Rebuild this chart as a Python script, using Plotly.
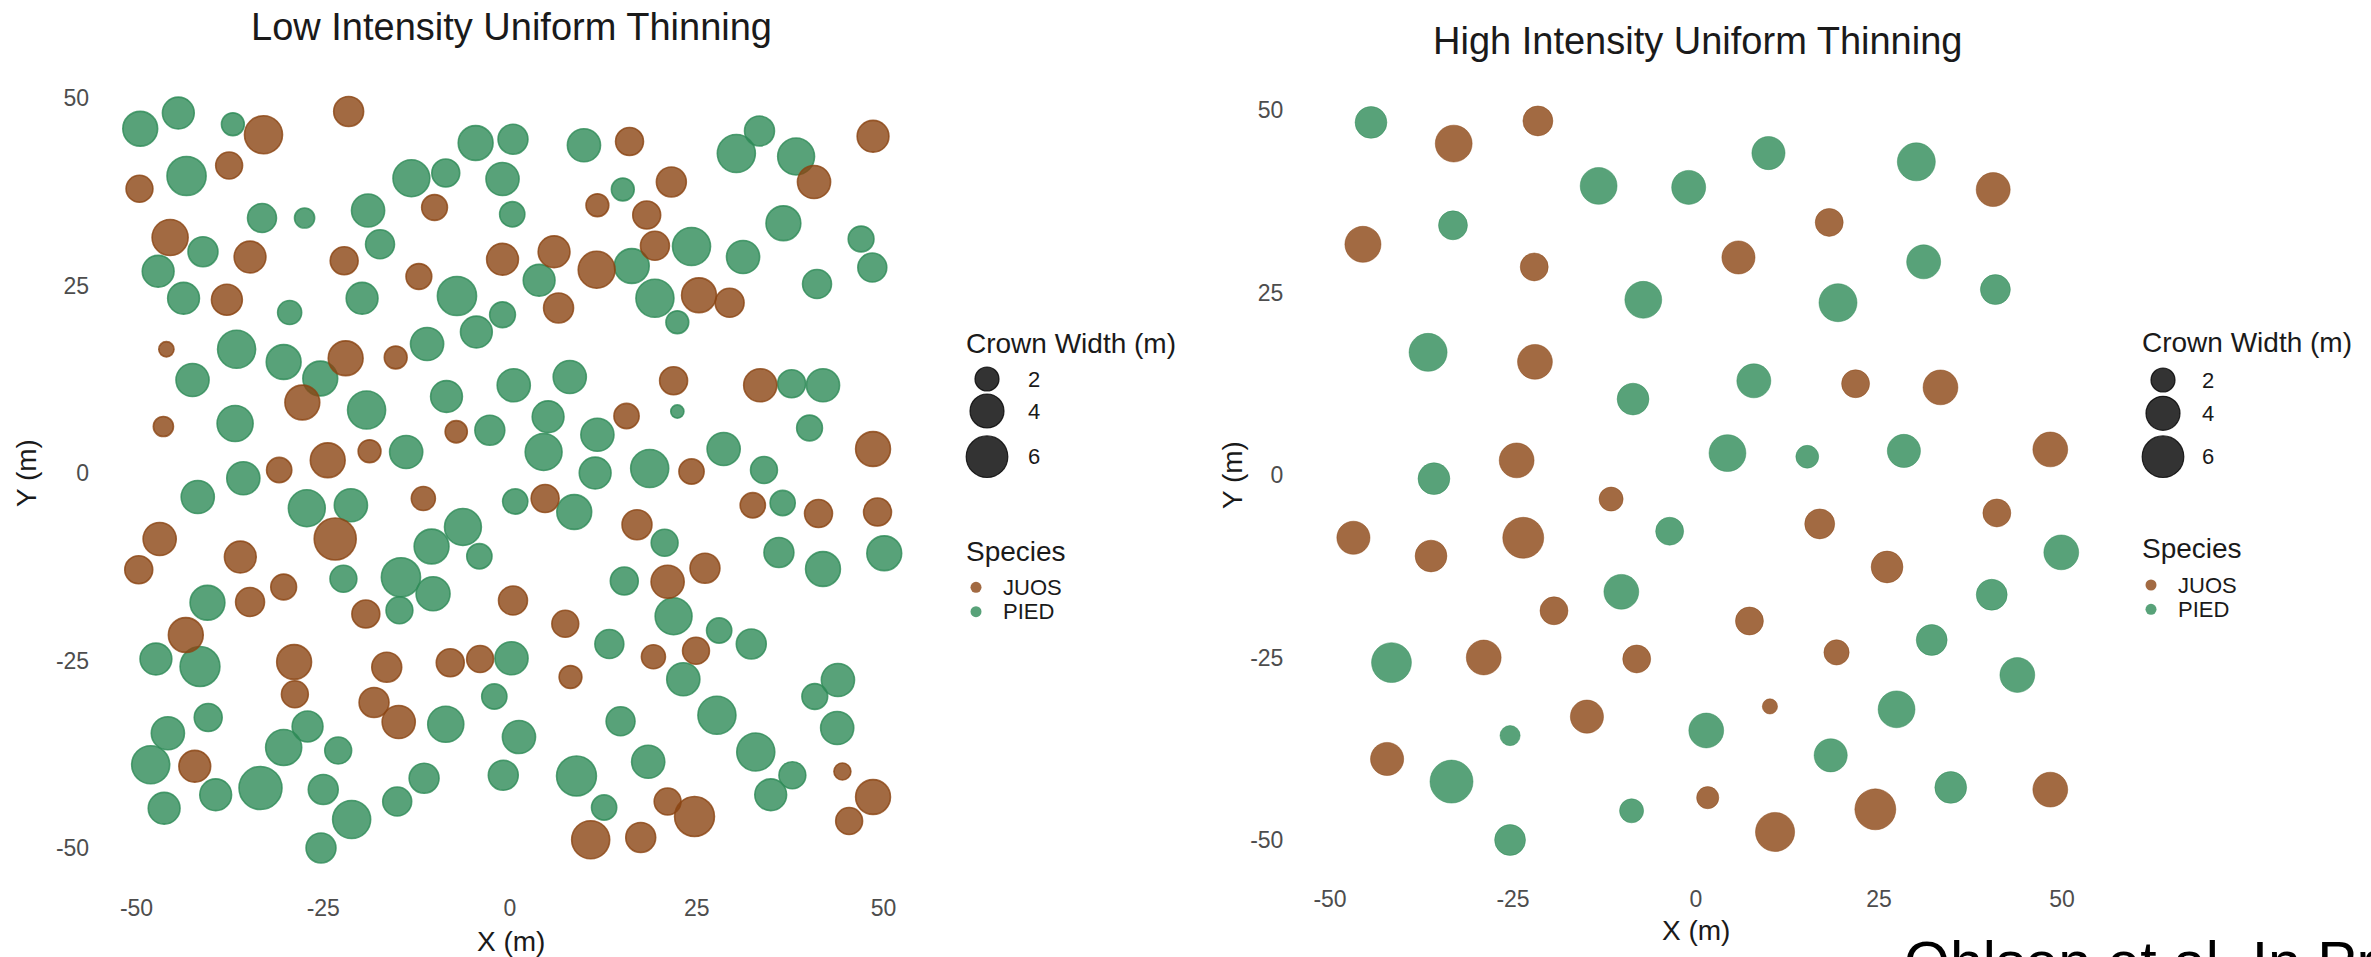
import plotly.graph_objects as go

W, H = 2371, 957

# ---------------- DATA ----------------
# Low intensity panel, JUOS (x m, y m, crown width m)
low_juos_x = [-33.0, -21.6, -37.6, -49.6, -10.1, -45.5, -34.8, -22.2, -1.0, -12.2, -37.9, -46.0, -22.0, -15.3,
              -27.8, -46.4, -7.2, -24.4, -18.8, -30.9, -11.6, -46.9, -49.7, -36.1, -23.4, -19.3, -30.3, -34.8,
              -43.4, -28.9, -28.8, -16.5, -8.0, -4.0, 0.4, -18.2, -14.9, -42.2, 16.0, 40.7, 48.6, 21.6, 11.7,
              18.3, 5.9, 11.6, 19.4, 25.3, 29.4, 6.5, 21.9, 33.5, 15.6, 24.3, 48.6, 4.7, 17.0, 32.5, 41.3, 49.2,
              26.1, 21.1, 7.4, 19.2, 24.9, 8.1, 44.5, 48.6, 45.4, 21.1, 24.7, 10.8, 17.5]
low_juos_y = [45.1, 48.2, 41.0, 37.9, 35.4, 31.4, 28.8, 28.3, 28.5, 26.2, 23.1, 16.5, 15.3, 15.4,
              9.4, 6.2, 5.5, 1.7, 2.9, 0.4, -3.4, -8.8, -12.9, -11.2, -8.8, -18.8, -15.2, -17.2,
              -21.6, -25.2, -29.5, -25.9, -25.3, -24.8, -17.0, -30.6, -33.2, -39.1, 44.2, 38.8, 44.9, 38.8, 35.7,
              34.4, 29.5, 27.1, 30.3, 23.7, 22.7, 22.0, 12.3, 11.7, 7.6, 0.2, 3.2, -3.4, -6.9, -4.3, -5.4, -5.2,
              -12.7, -14.5, -20.1, -24.5, -23.7, -27.2, -39.8, -43.2, -46.4, -43.8, -45.8, -48.9, -48.6]
low_juos_w = [5.0, 3.1, 2.5, 2.5, 2.3, 4.5, 3.5, 2.7, 3.5, 2.3, 3.3, 0.8, 4.2, 1.8,
              4.2, 1.4, 1.7, 4.2, 1.8, 2.2, 2.0, 3.8, 2.7, 3.5, 6.1, 2.7, 2.3, 2.9,
              4.2, 4.2, 2.5, 3.1, 2.7, 2.5, 2.9, 3.1, 3.8, 3.5, 2.7, 3.8, 3.5, 3.1, 1.8,
              2.7, 3.5, 4.7, 2.9, 4.2, 2.9, 3.1, 2.7, 3.8, 2.2, 2.2, 4.2, 2.7, 3.1, 2.2, 2.7, 2.7,
              3.1, 3.8, 2.5, 2.0, 2.5, 1.8, 1.0, 4.2, 2.5, 2.5, 5.5, 5.0, 3.1]

# Low intensity panel, PIED
low_pied_x = [-49.5, -44.4, -37.1, -43.3, -4.6, 0.4, -13.2, -8.6, -1.0, 0.3, -33.2, -27.5, -19.0, -41.1,
              -17.4, -47.1, -43.7, -19.8, -7.1, -29.5, -1.0, -4.5, -36.6, -30.3, -25.4, -11.1, -42.5, -19.2,
              -8.5, 0.5, -36.8, -2.7, -13.9, -35.7, -41.8, -27.2, -21.3, 0.7, -22.3, -10.5, -6.3, -4.1, -14.6,
              -10.3, -14.8, -40.5, -47.4, -41.5, 0.2, -2.1, -8.6, 1.2, -40.4, -45.8, -48.1, -39.4, -33.4, -46.3,
              -30.3, -27.1, -23.0, -25.0, -21.2, -25.3, -15.1, -11.5, -0.9,
              9.9, 33.4, 30.3, 38.3, 15.1, 36.6, 3.9, 16.3, 24.3, 31.2, 47.0, 48.5, 41.1, 19.4, 22.4, 8.0,
              37.7, 41.9, 22.4, 5.1, 4.5, 11.7, 11.4, 18.7, 28.6, 34.0, 40.1, 8.6, 20.7, 36.5, 36.0, 41.9,
              50.1, 15.3, 21.9, 28.0, 32.3, 13.3, 23.2, 43.9, 40.8, 14.8, 27.7, 43.8, 18.5, 32.9, 8.9, 37.8,
              34.9, 12.6]
low_pied_y = [45.9, 48.0, 46.5, 39.6, 44.0, 44.5, 39.3, 40.0, 39.2, 34.5, 34.0, 34.0, 35.0, 29.5,
              30.5, 26.9, 23.3, 23.3, 23.6, 21.4, 21.1, 18.8, 16.5, 14.8, 12.6, 17.2, 12.4, 8.4,
              10.2, 11.7, 6.6, 5.7, 2.8, -0.7, -3.2, -4.7, -4.3, -3.8, -14.1, -9.8, -7.2, -11.1, -13.9,
              -16.1, -18.3, -17.3, -24.8, -25.8, -24.7, -29.8, -33.5, -35.2, -32.6, -34.7, -38.9, -42.9, -42.0, -44.7,
              -36.6, -33.8, -37.0, -42.2, -46.2, -50.0, -43.8, -40.7, -40.3,
              43.7, 45.6, 42.6, 42.2, 37.8, 33.3, 25.7, 27.6, 30.2, 28.8, 31.2, 27.4, 25.2, 23.3, 20.1, 12.8,
              11.9, 11.7, 8.2, 7.5, 2.8, 5.1, 0.0, 0.6, 3.2, 0.4, 6.0, -5.2, -9.3, -4.0, -10.6, -12.8,
              -10.7, -14.4, -19.1, -21.0, -22.8, -22.8, -27.5, -27.6, -29.8, -33.1, -32.3, -34.0, -38.5, -37.2, -40.4, -40.3,
              -42.9, -44.6]
low_pied_w = [4.2, 3.5, 1.8, 5.3, 4.2, 3.1, 4.7, 2.7, 3.8, 2.2, 2.9, 1.4, 3.8, 3.1,
              2.9, 3.5, 3.5, 3.5, 5.3, 2.0, 2.3, 3.5, 5.0, 4.2, 4.2, 3.8, 3.8, 5.0,
              3.5, 3.8, 4.5, 3.1, 3.8, 3.8, 3.8, 4.7, 3.8, 2.2, 2.5, 4.2, 4.7, 2.2, 5.3,
              4.0, 2.5, 4.2, 3.5, 5.5, 3.8, 2.2, 4.5, 3.8, 2.7, 3.8, 5.0, 3.5, 6.4, 3.5,
              4.5, 3.3, 2.5, 3.1, 5.0, 3.1, 2.9, 3.1, 3.1,
              3.8, 3.1, 5.0, 4.7, 1.8, 4.2, 3.5, 4.2, 5.0, 3.8, 2.3, 2.9, 2.9, 5.0, 1.8, 3.8,
              2.7, 3.8, 0.6, 3.5, 4.7, 3.8, 3.5, 5.0, 3.8, 2.5, 2.3, 4.2, 2.5, 2.2, 3.1, 4.2,
              4.2, 2.7, 4.7, 2.2, 3.1, 2.9, 3.8, 3.8, 2.3, 2.9, 5.0, 3.8, 3.8, 5.0, 5.5, 2.5,
              3.5, 2.2]

# High intensity panel, JUOS
high_juos_x = [-33.1, -21.6, -45.5, -22.1, -22.0, -24.5, -11.6, 40.6, 18.2, 5.8, 21.8, 33.4, 48.4, 41.1,
               -46.8, -36.2, -23.6, -19.4, -29.0, -8.1, -14.9, -42.2, 16.9, 26.1, 7.3, 19.2, 10.1, 48.4,
               1.6, 10.8, 24.5]
high_juos_y = [45.4, 48.5, 31.6, 28.5, 15.5, 2.0, -3.3, 39.1, 34.6, 29.8, 12.5, 12.0, 3.5, -5.2,
               -8.6, -11.1, -8.6, -18.6, -25.0, -25.2, -33.1, -38.9, -6.7, -12.6, -20.0, -24.3, -31.7, -43.1,
               -44.2, -48.9, -45.8]
high_juos_w = [4.7, 3.1, 4.5, 2.7, 4.2, 4.2, 2.0, 4.0, 2.7, 3.8, 2.7, 4.2, 4.2, 2.7,
               3.8, 3.5, 5.8, 2.7, 4.2, 2.7, 3.8, 3.8, 3.1, 3.5, 2.7, 2.2, 0.8, 4.2,
               1.7, 5.3, 5.8]

# High intensity panel, PIED
high_pied_x = [-44.4, -13.3, -33.2, -7.2, -36.6, -8.6, -35.8, 9.9, -1.0, 30.1, 31.1, 40.9, 19.4, 7.9,
               4.3, 15.2, 28.4, -3.6, -10.2, -41.6, -25.4, -33.4, -8.8, -25.4, 49.9, 40.4, 32.2, 43.9,
               27.4, 1.4, 18.4, 34.8]
high_pied_y = [48.3, 39.6, 34.2, 24.0, 16.8, 10.4, -0.5, 44.1, 39.4, 42.9, 29.2, 25.4, 23.6, 12.9,
               3.0, 2.5, 3.3, -7.7, -16.0, -25.7, -35.7, -42.0, -46.0, -50.0, -10.6, -16.4, -22.6, -27.4,
               -32.1, -35.0, -38.4, -42.8]
high_pied_w = [3.5, 4.7, 2.9, 4.7, 5.0, 3.5, 3.5, 3.8, 4.0, 5.0, 4.0, 3.1, 5.0, 4.0,
               4.7, 1.8, 3.8, 2.7, 4.2, 5.5, 1.4, 6.4, 2.0, 3.3, 4.2, 3.3, 3.3, 4.2,
               4.7, 4.2, 3.8, 3.5]

titles = ["Low Intensity Uniform Thinning", "High Intensity Uniform Thinning"]
tick_vals = [-50, -25, 0, 25, 50]
tick_text = ["-50", "-25", "0", "25", "50"]
size_legend_vals = [2, 4, 6]
species = ["JUOS", "PIED"]
citation = "Ohlson et al. In Press"

# ---------------- STYLE / LAYOUT ----------------
FONT = "Liberation Sans, Arial, Helvetica, sans-serif"
COLORS = {"JUOS": "rgba(139,69,19,0.8)", "PIED": "rgba(46,139,87,0.8)"}
SIZEREF = 2 / 17 ** 2   # area sizing: diameter = 17*sqrt(width) px


def px(xp):
    return xp / W


def py(yp):
    return 1 - yp / H


RANGE = [-55, 55]
# pixel location of data origin and px per metre for each panel
panel_geo = [
    dict(ox=510, sx=7.47, oy=473, sy=7.50, line=1.6, title=(511, 27),
         xt=(511, 941), yt=(27, 473), leg=dict(tx=964, ty=343, kx=987, ky=[379, 411, 456.7], lx=1026,
                                                 sty=551.7, dx=976, dy=[587.3, 611.7], dlx=1001)),
    dict(ox=1696, sx=7.32, oy=475, sy=7.30, line=0.6, title=(1697, 41),
         xt=(1696, 930), yt=(1232, 475), leg=dict(tx=2140, ty=342, kx=2163, ky=[380, 413.3, 456.7], lx=2200,
                                                  sty=548.3, dx=2151, dy=[585, 609.3], dlx=2176)),
]

data = [
    {"JUOS": (low_juos_x, low_juos_y, low_juos_w), "PIED": (low_pied_x, low_pied_y, low_pied_w)},
    {"JUOS": (high_juos_x, high_juos_y, high_juos_w), "PIED": (high_pied_x, high_pied_y, high_pied_w)},
]

fig = go.Figure()
layout = dict(
    width=W, height=H, margin=dict(l=0, r=0, t=0, b=0, pad=0),
    paper_bgcolor="white", plot_bgcolor="rgba(0,0,0,0)", showlegend=False,
    font=dict(family=FONT, color="#1A1A1A"),
)
annotations = []

# pixel-unit overlay axis for legend keys (declared first so it sits underneath)
layout["xaxis"] = dict(domain=[0, 1], range=[0, W], visible=False, fixedrange=True, anchor="y")
layout["yaxis"] = dict(domain=[0, 1], range=[H, 0], visible=False, fixedrange=True, anchor="x")

for i, g in enumerate(panel_geo):
    n = i + 2
    xa, ya, xr, yr = "xaxis%d" % n, "yaxis%d" % n, "x%d" % n, "y%d" % n
    x_left = g["ox"] + RANGE[0] * g["sx"]
    x_right = g["ox"] + RANGE[1] * g["sx"]
    y_top = g["oy"] - RANGE[1] * g["sy"]
    y_bot = g["oy"] - RANGE[0] * g["sy"]
    common = dict(range=RANGE, tickvals=tick_vals, ticktext=tick_text, showgrid=False, zeroline=False,
                  showline=False, ticks="", tickfont=dict(family=FONT, size=23, color="#4D4D4D"), fixedrange=True)
    layout[xa] = dict(domain=[px(x_left), px(x_right)], anchor=yr, ticklabelstandoff=6, **common)
    layout[ya] = dict(domain=[py(y_bot), py(y_top)], anchor=xr, ticklabelstandoff=9, **common)

    for sp in ["PIED", "JUOS"]:
        xs, ys, ws = data[i][sp]
        fig.add_trace(go.Scatter(
            x=xs, y=ys, mode="markers", xaxis=xr, yaxis=yr, name=sp, hoverinfo="skip",
            marker=dict(size=ws, sizemode="area", sizeref=SIZEREF, color=COLORS[sp], opacity=1,
                        line=dict(width=g["line"], color=COLORS[sp]))))

    annotations.append(dict(text=titles[i], x=px(g["title"][0]), y=py(g["title"][1]), xref="paper", yref="paper",
                            showarrow=False, xanchor="center", yanchor="middle",
                            font=dict(size=38, color="#1A1A1A", family=FONT)))
    annotations.append(dict(text="X (m)", x=px(g["xt"][0]), y=py(g["xt"][1]), xref="paper", yref="paper",
                            showarrow=False, xanchor="center", yanchor="middle",
                            font=dict(size=28, color="#1A1A1A", family=FONT)))
    annotations.append(dict(text="Y (m)", x=px(g["yt"][0]), y=py(g["yt"][1]), xref="paper", yref="paper",
                            showarrow=False, xanchor="center", yanchor="middle", textangle=-90,
                            font=dict(size=28, color="#1A1A1A", family=FONT)))

    # legends
    L = g["leg"]
    annotations.append(dict(text="Crown Width (m)", x=px(L["tx"]), y=py(L["ty"]), xref="paper", yref="paper",
                            showarrow=False, xanchor="left", yanchor="middle",
                            font=dict(size=28, color="#1A1A1A", family=FONT)))
    annotations.append(dict(text="Species", x=px(L["tx"]), y=py(L["sty"]), xref="paper", yref="paper",
                            showarrow=False, xanchor="left", yanchor="middle",
                            font=dict(size=28, color="#1A1A1A", family=FONT)))
    for v, yk in zip(size_legend_vals, L["ky"]):
        annotations.append(dict(text=str(v), x=px(L["lx"]), y=py(yk), xref="paper", yref="paper",
                                showarrow=False, xanchor="left", yanchor="middle",
                                font=dict(size=22, color="#1A1A1A", family=FONT)))
    for s, yk in zip(species, L["dy"]):
        annotations.append(dict(text=s, x=px(L["dlx"]), y=py(yk), xref="paper", yref="paper",
                                showarrow=False, xanchor="left", yanchor="middle",
                                font=dict(size=22, color="#1A1A1A", family=FONT)))
    fig.add_trace(go.Scatter(
        x=[L["kx"]] * len(size_legend_vals), y=L["ky"], mode="markers", xaxis="x", yaxis="y",
        hoverinfo="skip",
        marker=dict(size=size_legend_vals, sizemode="area", sizeref=SIZEREF, color="rgba(0,0,0,0.8)",
                    opacity=1, line=dict(width=1.2, color="rgba(0,0,0,0.8)"))))
    fig.add_trace(go.Scatter(
        x=[L["dx"]] * len(species), y=L["dy"], mode="markers", xaxis="x", yaxis="y", hoverinfo="skip",
        marker=dict(size=11, color=[COLORS[s] for s in species], opacity=1, line=dict(width=0))))

annotations.append(dict(text=citation, x=px(1902), y=py(928), xref="paper", yref="paper", showarrow=False,
                        xanchor="left", yanchor="top", font=dict(size=59, color="#000000", family=FONT)))
layout["annotations"] = annotations

fig.update_layout(**layout)
fig.write_html("out.html")
